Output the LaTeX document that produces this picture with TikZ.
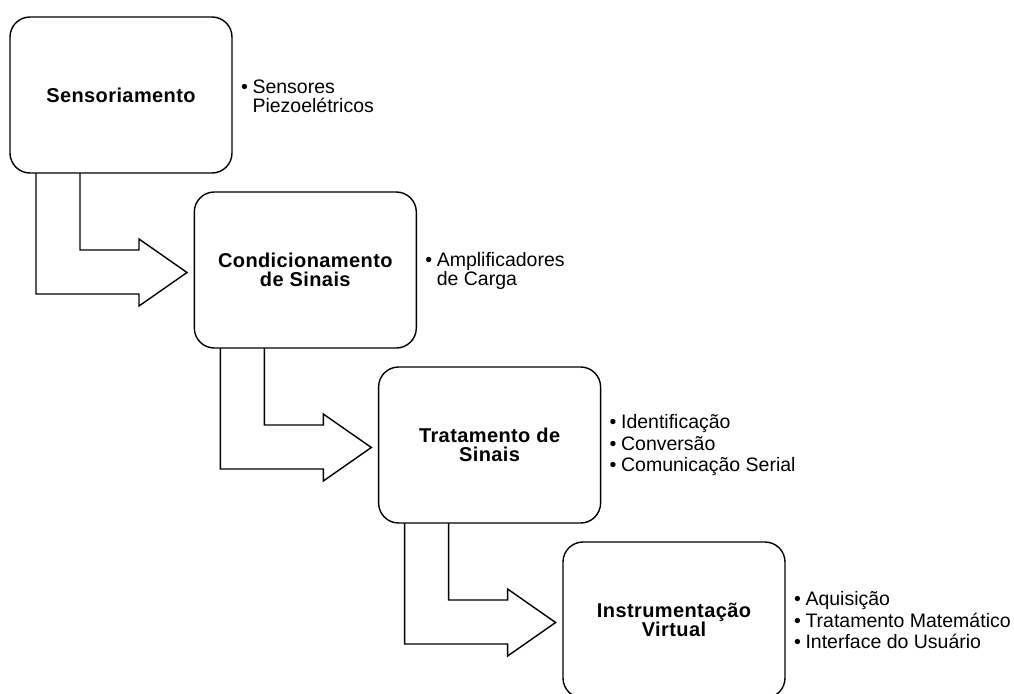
\documentclass[tikz,border=0pt]{standalone}
\usepackage{fontspec}
\setmainfont{Liberation Sans}
\newfontfamily\boxfont[LetterSpace=2]{Liberation Sans}
\newfontfamily\itemfont{Liberation Sans}
\usetikzlibrary{calc}
\begin{document}
\begin{tikzpicture}[x=1pt,y=-1pt,
  stagebox/.style={draw=black, line width=1.4pt, rounded corners=20pt, fill=white,
    minimum width=222pt, minimum height=156pt, inner sep=0pt, outer sep=0pt,
    align=center, font=\boxfont\bfseries\fontsize{20}{19.5}\selectfont},
  bentarrow/.style={draw=black, line width=1.4pt, fill=white, line join=miter},
  itemtext/.style={anchor=base west, inner sep=0pt, outer sep=0pt,
    font=\itemfont\fontsize{19.5}{19}\selectfont}
]
\useasboundingbox (0,0) rectangle (1014,693);
\clip (0,0) rectangle (1014,693);
\fill[white] (0,0) rectangle (1014,693);

% box centres
\coordinate (c1) at (121,95);
\coordinate (c2) at (305.3,270);
\coordinate (c3) at (489.6,445);
\coordinate (c4) at (674,620);

% bent block arrows leaving each box bottom
\foreach \i in {1,2,3}{
  \coordinate (sw) at ($(c\i)+(-111,78)$);
  \draw[bentarrow] ($(sw)+(26,0)$) -- ($(sw)+(26,121)$) -- ($(sw)+(129,121)$)
     -- ($(sw)+(129,133)$) -- ($(sw)+(177,99.5)$) -- ($(sw)+(129,66)$)
     -- ($(sw)+(129,77)$) -- ($(sw)+(70,77)$) -- ($(sw)+(70,0)$);
}

\node[stagebox] (b1) at (c1) {Sensoriamento};
\node[stagebox] (b2) at (c2) {Condicionamento\\de Sinais};
\node[stagebox] (b3) at (c3) {Tratamento de\\Sinais};
\node[stagebox] (b4) at (c4) {Instrumentação\\Virtual};

% bullet lists
\node[itemtext] (t1a) at ($(b1.east)+(9,-2)$) {•};
\node[itemtext] (t1b) at ($(b1.east)+(20.5,-2)$) {Sensores};
\node[itemtext] (t1c) at ($(b1.east)+(20.5,17)$) {Piezoelétricos};

\node[itemtext] (t2a) at ($(b2.east)+(9,-4)$) {•};
\node[itemtext] (t2b) at ($(b2.east)+(20.5,-4)$) {Amplificadores};
\node[itemtext] (t2c) at ($(b2.east)+(20.5,15)$) {de Carga};

\node[itemtext] (t3a) at ($(b3.east)+(9,-17)$) {•};
\node[itemtext] (t3b) at ($(b3.east)+(20.5,-17)$) {Identificação};
\node[itemtext] (t3c) at ($(b3.east)+(9,5)$) {•};
\node[itemtext] (t3d) at ($(b3.east)+(20.5,5)$) {Conversão};
\node[itemtext] (t3e) at ($(b3.east)+(9,26)$) {•};
\node[itemtext] (t3f) at ($(b3.east)+(20.5,26)$) {Comunicação Serial};

\node[itemtext] (t4a) at ($(b4.east)+(9,-15)$) {•};
\node[itemtext] (t4b) at ($(b4.east)+(20.5,-15)$) {Aquisição};
\node[itemtext] (t4c) at ($(b4.east)+(9,7)$) {•};
\node[itemtext] (t4d) at ($(b4.east)+(20.5,7)$) {Tratamento Matemático};
\node[itemtext] (t4e) at ($(b4.east)+(9,28)$) {•};
\node[itemtext] (t4f) at ($(b4.east)+(20.5,28)$) {Interface do Usuário};
\end{tikzpicture}
\end{document}
